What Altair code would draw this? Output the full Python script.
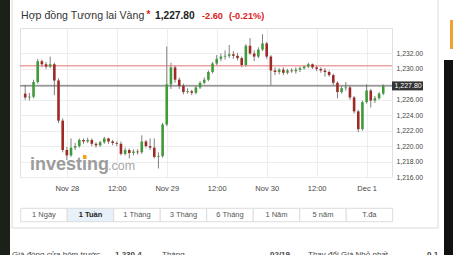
import altair as alt
import pandas as pd

# ---------------- data ----------------
hours = list(range(-10, 77))  # hours from Nov 28 00:00
opens = [1226.8, 1226.3, 1226.4, 1228.3, 1231.0, 1230.6, 1230.3, 1230.6, 1228.5, 1223.3,
         1219.5, 1218.8, 1219.8, 1220.0, 1220.8, 1220.6, 1220.8, 1220.3, 1220.1, 1220.5,
         1221.0, 1220.6, 1220.4, 1220.3, 1219.0, 1219.5, 1219.1, 1219.3, 1219.2, 1220.6,
         1220.0, 1219.8, 1218.6, 1218.7, 1222.8, 1228.0, 1230.2, 1228.6, 1227.8, 1227.0,
         1227.1, 1226.9, 1227.6, 1228.2, 1228.6, 1229.6, 1230.7, 1231.3, 1231.6, 1231.7,
         1231.9, 1231.7, 1231.4, 1230.5, 1233.0, 1232.0, 1231.6, 1232.5, 1233.3, 1231.6,
         1229.8, 1229.6, 1229.9, 1229.5, 1229.8, 1229.7, 1229.9, 1230.1, 1230.3, 1230.6,
         1230.2, 1230.0, 1229.8, 1229.6, 1229.2, 1228.2, 1227.0, 1227.5, 1227.6, 1226.3,
         1224.5, 1222.2, 1225.7, 1227.2, 1225.9, 1226.2, 1226.8]
highs = [1227.9, 1226.9, 1228.6, 1231.3, 1231.2, 1230.9, 1231.6, 1230.8, 1228.8, 1223.6,
         1219.9, 1221.0, 1220.4, 1221.0, 1221.0, 1221.1, 1221.0, 1220.5, 1220.7, 1221.2,
         1221.1, 1220.8, 1220.6, 1220.6, 1219.8, 1219.7, 1219.6, 1219.6, 1221.4, 1220.8,
         1221.0, 1221.0, 1219.2, 1223.0, 1232.9, 1230.8, 1230.5, 1228.9, 1228.1, 1227.5,
         1227.3, 1227.8, 1228.4, 1228.9, 1229.8, 1230.9, 1231.8, 1232.0, 1232.4, 1233.1,
         1232.3, 1232.1, 1231.6, 1233.2, 1234.0, 1232.4, 1232.8, 1234.5, 1233.5, 1231.8,
         1230.2, 1230.1, 1230.2, 1230.0, 1230.1, 1230.2, 1230.3, 1230.5, 1230.8, 1230.7,
         1230.4, 1230.2, 1230.1, 1229.8, 1229.4, 1228.4, 1227.8, 1228.3, 1227.8, 1226.5,
         1224.7, 1225.9, 1228.0, 1227.4, 1226.5, 1227.0, 1228.0]
lows = [1226.0, 1225.9, 1226.2, 1228.1, 1230.2, 1230.0, 1230.1, 1226.6, 1223.0, 1219.2,
        1218.2, 1218.6, 1219.5, 1219.8, 1220.3, 1220.4, 1220.0, 1219.8, 1219.9, 1220.3,
        1220.3, 1220.1, 1220.0, 1218.8, 1218.8, 1218.4, 1218.8, 1218.9, 1219.0, 1219.8,
        1219.5, 1218.4, 1217.1, 1218.5, 1222.6, 1227.4, 1228.2, 1227.4, 1226.7, 1226.8,
        1226.6, 1226.7, 1227.4, 1228.0, 1228.4, 1229.4, 1230.5, 1231.0, 1231.2, 1231.4,
        1231.3, 1231.1, 1230.2, 1230.3, 1231.8, 1231.0, 1231.4, 1232.3, 1231.3, 1227.9,
        1229.2, 1229.3, 1229.2, 1229.3, 1229.5, 1229.4, 1229.6, 1229.9, 1230.1, 1230.0,
        1229.7, 1229.5, 1229.0, 1229.0, 1227.9, 1226.2, 1226.8, 1227.2, 1226.0, 1224.2,
        1221.8, 1222.0, 1225.5, 1225.0, 1225.6, 1226.0, 1226.6]
closes = [1226.3, 1226.4, 1228.3, 1231.0, 1230.6, 1230.3, 1230.6, 1228.5, 1223.3, 1219.5,
          1218.8, 1219.8, 1220.0, 1220.8, 1220.6, 1220.8, 1220.3, 1220.1, 1220.5, 1221.0,
          1220.6, 1220.4, 1220.3, 1219.0, 1219.5, 1219.1, 1219.3, 1219.2, 1220.6, 1220.0,
          1219.8, 1218.6, 1218.7, 1222.8, 1228.0, 1230.2, 1228.6, 1227.8, 1227.0, 1227.1,
          1226.9, 1227.6, 1228.2, 1228.6, 1229.6, 1230.7, 1231.3, 1231.6, 1231.7, 1231.9,
          1231.7, 1231.4, 1230.5, 1233.0, 1232.0, 1231.6, 1232.5, 1233.3, 1231.6, 1229.8,
          1229.6, 1229.9, 1229.5, 1229.8, 1229.7, 1229.9, 1230.1, 1230.3, 1230.6, 1230.2,
          1230.0, 1229.8, 1229.6, 1229.2, 1228.2, 1227.0, 1227.5, 1227.6, 1226.3, 1224.5,
          1222.2, 1225.7, 1227.2, 1225.9, 1226.2, 1226.8, 1227.8]

x_tick_hours = [0, 12, 24, 36, 48, 60, 72]
x_tick_labels = ["Nov 28", "12:00", "Nov 29", "12:00", "Nov 30", "12:00", "Dec 1"]
y_ticks = [1216, 1218, 1220, 1222, 1224, 1226, 1228, 1230, 1232]
y_hidden_label = 1228  # covered by the current-price tag

prev_close = 1230.4
last_price = 1227.80
title_name = "Hợp đồng Tương lai Vàng"
title_price = "1,227.80"
title_change = "-2.60"
title_pct = "(-0.21%)"
buttons = ["1 Ngày", "1 Tuần", "1 Tháng", "3 Tháng", "6 Tháng", "1 Năm", "5 năm", "T.đa"]
selected_button = "1 Tuần"
footer = [("Giá đóng cửa hôm trước", False, 12), ("1,230.4", True, 115),
          ("Tháng", False, 162), ("02/19", True, 270),
          ("Thay đổi Giá Nhỏ nhất", False, 308), ("0.1", True, 427)]

# ---------------- layout ----------------
FONT = "Liberation Sans"
GREEN = "#3f9a3a"
RED = "#9e2a25"
W, H = 372, 149
PAD_L, PAD_T = 20, 28
PAD_R, PAD_B = 453 - PAD_L - W, 255 - PAD_T - H

df = pd.DataFrame({"h": hours, "open": opens, "high": highs, "low": lows, "close": closes})
xs = alt.Scale(domain=[-10.05, 76.9], nice=False, zero=False)
ys = alt.Scale(domain=[1216, 1235.3], nice=False, zero=False)

label_js = "[" + ",".join("'%s'" % s for s in x_tick_labels) + "]"
x_axis = alt.Axis(values=x_tick_hours, labelExpr=f"{label_js}[round(datum.value/12)]",
                  title=None, grid=True, gridColor="#ededed", ticks=False, domain=False,
                  labelFontSize=7.5, labelColor="#444", labelPadding=7, labelFont=FONT)
y_axis = alt.Axis(orient="right", values=y_ticks,
                  labelExpr=f"datum.value == {y_hidden_label} ? '' : format(datum.value, ',.2f')",
                  title=None, grid=True,
                  gridColor="#ededed", ticks=False, domain=False, labelFontSize=6.8,
                  labelColor="#444", labelPadding=4, labelFont=FONT)

one = pd.DataFrame({"a": [0]})


def rect(x1, y1, x2, y2, fill, stroke=None):
    kw = {"fill": fill}
    if stroke:
        kw.update(stroke=stroke, strokeWidth=1)
    return alt.Chart(one).mark_rect(**kw).encode(
        x=alt.value(x1 - PAD_L), x2=alt.value(x2 - PAD_L),
        y=alt.value(y1 - PAD_T), y2=alt.value(y2 - PAD_T))


def line(x1, y1, x2, y2, color):
    return alt.Chart(one).mark_rule(color=color, strokeWidth=1).encode(
        x=alt.value(x1 - PAD_L), x2=alt.value(x2 - PAD_L),
        y=alt.value(y1 - PAD_T), y2=alt.value(y2 - PAD_T))


def text(s, x, y, size, color, bold=False, align="left", baseline="alphabetic"):
    return alt.Chart(one).mark_text(
        text=s, fontSize=size, color=color, font=FONT, align=align, baseline=baseline,
        fontWeight="bold" if bold else "normal").encode(
        x=alt.value(x - PAD_L), y=alt.value(y - PAD_T))


layers = []
# page chrome
layers.append(rect(0, 0, 10, 255, "#1b2119"))
layers.append(line(12, 0, 12, 228, "#dcdcdc"))
layers.append(line(12, 228, 438, 228, "#dcdcdc"))
layers.append(line(438, 0, 438, 228, "#dcdcdc"))
layers.append(rect(444, 60, 453, 255, "#111111"))
layers.append(rect(450, 20, 453, 49, "#f0a030"))

# watermark
layers.append(text("investing", 30, 170, 18, "#9c9c9c", bold=True))
layers.append(text(".com", 108, 170, 12.5, "#a8a8a8"))
layers.append(rect(83, 155, 86.5, 159, "#f4a11d"))

# candles
wicks = alt.Chart(df).mark_rule(color="#808080", strokeWidth=1).encode(
    x=alt.X("h:Q", scale=xs, axis=x_axis),
    y=alt.Y("low:Q", scale=ys, axis=y_axis),
    y2="high:Q")
refs = pd.DataFrame({"v": [prev_close, last_price], "c": ["#e57373", "#555555"]})
ref_lines = alt.Chart(refs).mark_rule(strokeWidth=1).encode(
    y=alt.Y("v:Q", scale=ys, axis=y_axis), color=alt.Color("c:N", scale=None))
bodies = alt.Chart(df).mark_bar(size=2.6).encode(
    x=alt.X("h:Q", scale=xs, axis=x_axis),
    y=alt.Y("open:Q", scale=ys, axis=y_axis),
    y2="close:Q",
    color=alt.condition("datum.close >= datum.open", alt.value(GREEN), alt.value(RED)))
layers += [wicks, ref_lines, bodies]

# current price tag
tag = pd.DataFrame({"v": [last_price]})
layers.append(alt.Chart(tag).transform_calculate(lo="datum.v - 0.58", hi="datum.v + 0.58")
              .mark_rect(color="#333333").encode(
    x=alt.value(W), x2=alt.value(W + 31),
    y=alt.Y("lo:Q", scale=ys, axis=y_axis), y2="hi:Q"))
layers.append(alt.Chart(tag).mark_text(align="left", baseline="middle", color="white",
                                       fontSize=7, font=FONT).encode(
    x=alt.value(W + 2.5), y=alt.Y("v:Q", scale=ys, axis=y_axis),
    text=alt.Text("v:Q", format=",.2f")))

# title
layers.append(text(title_name, 21, 19, 10.6, "#333333"))
layers.append(text("*", 146.5, 18, 10, "#e02020", bold=True))
layers.append(text(title_price, 155, 19, 10.2, "#222222", bold=True))
layers.append(text(title_change, 202, 19, 9.2, "#e02020", bold=True))
layers.append(text(title_pct, 229, 19, 9.2, "#e02020", bold=True))

# range buttons
bw = 46.5
for i, b in enumerate(buttons):
    x1 = 20.7 + i * bw
    sel = b == selected_button
    layers.append(rect(x1, 208.3, x1 + bw, 221.7, "#e8f0f9" if sel else "#ffffff", "#dddddd"))
    layers.append(text(b, x1 + bw / 2, 215.2, 7.5, "#222222" if sel else "#555555",
                       bold=sel, align="center", baseline="middle"))

# footer (cut off at the bottom, as in the page screenshot)
for s, bold, x in footer:
    layers.append(text(s, x, 250.5, 8, "#444444", bold=bold, baseline="top"))

chart = alt.layer(*layers).properties(
    width=W, height=H, autosize="none",
    padding={"left": PAD_L, "top": PAD_T, "right": PAD_R, "bottom": PAD_B},
    background="white",
).configure_view(stroke="#e0e0e0", strokeWidth=1)

chart.save("out.html", embed_options={"renderer": "svg", "actions": False})
